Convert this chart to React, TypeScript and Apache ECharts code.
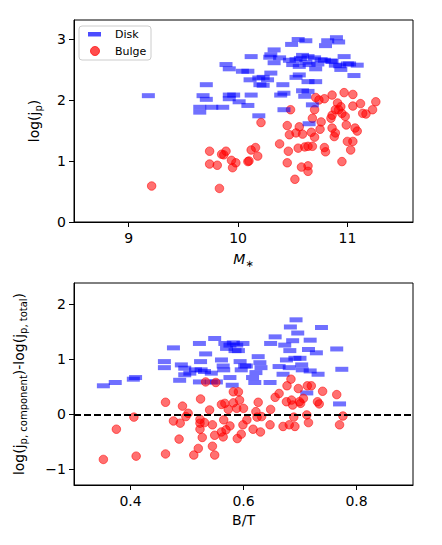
import React, { useEffect, useRef } from "react";
import * as echarts from "echarts";

const FONT = "DejaVu Sans";

const massTicks = [9, 10, 11];
const logjTicks = [0, 1, 2, 3];
const btTicks = [0.4, 0.6, 0.8];
const dlogjTicks = [-1, 0, 1, 2];

// Top panel: [log M*, log j_p]
const diskTop: number[][] = [
  [9.18, 2.07], [9.71, 2.25], [9.68, 2.07], [9.71, 2.01], [9.65, 1.88], [9.65, 1.8], [9.76, 1.88],
  [9.86, 1.88], [9.92, 2.08], [9.92, 2.02], [9.96, 2.08], [10.01, 1.97], [10.09, 1.91], [10.12, 2.08],
  [10.19, 1.74], [9.89, 2.58], [9.92, 2.51], [10.04, 2.47], [10.12, 2.71], [10.09, 2.47], [10.11, 2.33],
  [10.19, 2.36], [10.2, 2.25], [10.23, 2.24], [10.27, 2.33], [10.23, 2.37], [10.3, 2.44], [10.3, 2.74],
  [10.29, 2.7], [10.33, 2.82], [10.33, 2.61], [10.38, 2.69], [10.49, 2.91], [10.55, 2.99], [10.62, 2.97],
  [10.8, 2.89], [10.82, 2.97], [10.9, 3.02], [10.92, 2.95], [10.53, 2.66], [10.59, 2.73], [10.64, 2.71],
  [10.7, 2.69], [10.76, 2.66], [10.5, 2.58], [10.56, 2.55], [10.65, 2.58], [10.71, 2.51], [10.85, 2.64],
  [10.97, 2.71], [10.89, 2.57], [10.94, 2.5], [11.02, 2.59], [11.09, 2.57], [11.06, 2.4], [10.53, 2.37],
  [10.56, 2.41], [10.71, 2.3], [10.64, 2.3], [10.41, 2.25], [10.42, 2.11], [10.39, 2.08], [10.59, 2.15],
  [10.64, 2.14], [10.61, 2.06], [10.42, 1.84], [10.68, 1.92], [10.65, 1.61], [10.47, 2.65], [10.57, 2.68],
  [10.62, 2.62], [10.73, 2.59], [10.79, 2.65], [10.86, 2.63], [10.93, 2.56], [11.0, 2.59],
];

const bulgeTop: number[][] = [
  [9.21, 0.59], [9.83, 0.55], [9.74, 1.16], [9.74, 0.95], [9.81, 0.93], [9.85, 1.11], [9.89, 1.16],
  [9.87, 1.1], [9.94, 1.01], [9.95, 0.89], [9.98, 0.97], [10.09, 0.99], [10.1, 1.0], [10.12, 1.18],
  [10.16, 1.22], [10.18, 1.08], [10.21, 1.63], [10.38, 1.28], [10.45, 0.97], [10.46, 1.16], [10.45, 1.58],
  [10.47, 1.43], [10.48, 1.84], [10.52, 0.7], [10.53, 1.46], [10.56, 1.56], [10.59, 1.44], [10.55, 1.21],
  [10.58, 0.9], [10.61, 1.23], [10.64, 1.24], [10.64, 0.92], [10.64, 0.83], [10.68, 1.24], [10.7, 1.39],
  [10.67, 1.47], [10.68, 1.7], [10.7, 1.84], [10.71, 2.04], [10.74, 2.0], [10.75, 1.52], [10.76, 1.64],
  [10.79, 2.02], [10.79, 1.22], [10.8, 1.15], [10.86, 2.08], [10.86, 1.54], [10.86, 1.75], [10.88, 1.4],
  [10.89, 1.46], [10.91, 1.95], [10.92, 1.84], [10.94, 1.89], [10.95, 1.78], [10.95, 0.99], [10.97, 2.12],
  [10.98, 1.73], [10.99, 1.59], [11.0, 1.32], [11.03, 1.18], [11.05, 1.32], [11.05, 2.09], [11.05, 1.9],
  [11.07, 1.54], [11.09, 1.49], [11.12, 1.94], [11.14, 1.78], [11.17, 1.77], [11.23, 1.84], [11.26, 1.97],
  [10.85, 1.7], [10.89, 1.84],
];

// Bottom panel: [B/T, log j_comp - log j_total]
const diskBottom: number[][] = [
  [0.352, 0.52], [0.373, 0.58], [0.405, 0.64], [0.409, 0.67], [0.476, 1.21], [0.46, 0.96], [0.46, 0.85],
  [0.49, 0.9], [0.496, 0.84], [0.487, 0.62], [0.496, 0.72], [0.505, 0.75], [0.522, 1.29], [0.533, 1.1],
  [0.524, 0.96], [0.515, 0.81], [0.525, 0.81], [0.531, 0.78], [0.522, 0.59], [0.549, 1.38], [0.543, 0.75],
  [0.543, 0.59], [0.552, 0.59], [0.561, 0.99], [0.564, 0.88], [0.567, 1.29], [0.57, 1.2], [0.576, 1.26],
  [0.582, 1.3], [0.585, 1.16], [0.588, 1.26], [0.591, 1.16], [0.594, 0.96], [0.599, 1.29], [0.602, 0.88],
  [0.576, 0.67], [0.565, 0.81], [0.58, 0.53], [0.596, 0.81], [0.605, 0.88], [0.616, 0.67], [0.62, 0.58],
  [0.622, 0.76], [0.626, 1.05], [0.629, 0.94], [0.631, 0.85], [0.647, 0.58], [0.648, 1.29], [0.656, 1.41],
  [0.663, 0.87], [0.67, 0.73], [0.673, 1.26], [0.676, 0.99], [0.682, 1.16], [0.681, 0.85], [0.683, 1.59],
  [0.687, 1.34], [0.691, 1.02], [0.693, 1.72], [0.696, 1.48], [0.7, 1.02], [0.703, 0.9], [0.704, 0.81],
  [0.712, 0.39], [0.715, 1.18], [0.718, 1.35], [0.718, 0.79], [0.729, 1.12], [0.732, 0.73], [0.738, 1.58],
  [0.765, 1.19], [0.774, 0.82], [0.77, 0.19],
];

const bulgeBottom: number[][] = [
  [0.352, -0.82], [0.375, -0.27], [0.406, -0.05], [0.41, -0.76], [0.462, 0.22], [0.462, -0.72],
  [0.476, -0.12], [0.486, -0.45], [0.492, 0.15], [0.488, -0.16], [0.498, -0.04], [0.502, 0.02],
  [0.512, -0.74], [0.52, -0.62], [0.524, 0.28], [0.523, -0.09], [0.523, -0.16], [0.523, -0.27],
  [0.527, -0.42], [0.531, -0.15], [0.533, 0.59], [0.54, 0.08], [0.545, -0.19], [0.545, -0.58],
  [0.549, -0.38], [0.549, -0.74], [0.551, 0.58], [0.561, -0.32], [0.561, 0.18], [0.567, 0.2],
  [0.565, -0.1], [0.564, -0.41], [0.569, -0.28], [0.573, 0.09], [0.576, -0.21], [0.582, 0.41],
  [0.582, 0.21], [0.588, 0.11], [0.589, -0.44], [0.591, 0.41], [0.593, 0.26], [0.596, -0.36],
  [0.599, -0.19], [0.6, 0.11], [0.606, -0.1], [0.617, -0.27], [0.622, 0.05], [0.624, -0.05],
  [0.626, 0.22], [0.63, -0.32], [0.632, -0.04], [0.647, -0.19], [0.648, 0.09], [0.656, 0.31],
  [0.663, 0.38], [0.67, -0.22], [0.677, 0.52], [0.676, 0.23], [0.681, -0.19], [0.684, 0.64],
  [0.685, 0.26], [0.687, 0.17], [0.689, -0.05], [0.691, -0.22], [0.697, 0.47], [0.699, 0.23],
  [0.701, 0.2], [0.706, 0.29], [0.713, 0.52], [0.712, -0.01], [0.715, -0.15], [0.72, 0.52],
  [0.731, 0.23], [0.734, 0.19], [0.74, 0.42], [0.765, 0.36], [0.77, -0.19], [0.776, -0.03],
];

const DISK_COLOR = "rgba(0,0,255,0.7)";
const BULGE_COLOR = "rgba(255,0,0,0.7)";

const rich = {
  n: { fontSize: 14, fontFamily: FONT, color: "#000" },
  i: { fontSize: 14, fontFamily: FONT, fontStyle: "italic", color: "#000" },
  s: { fontSize: 10, fontFamily: FONT, color: "#000", padding: [8, 0, 0, 0], verticalAlign: "bottom" },
};

const fmt = (v: number) => String(v).replace("-", "\u2212");

function makeX(gridIndex: number, min: number, max: number, ticks: number[], name: string, nameGap: number) {
  return {
    type: "value",
    gridIndex,
    min,
    max,
    name,
    nameLocation: "middle",
    nameGap,
    nameTextStyle: { rich },
    axisLine: { show: true, onZero: false, lineStyle: { color: "#000", width: 1 } },
    axisTick: { show: true, customValues: ticks, length: 5, lineStyle: { color: "#000" } },
    axisLabel: { customValues: ticks, formatter: fmt, fontSize: 14, fontFamily: FONT, color: "#000", margin: 9 },
    splitLine: { show: false },
  };
}

function makeY(gridIndex: number, min: number, max: number, ticks: number[], name: string, nameGap: number) {
  return {
    type: "value",
    gridIndex,
    min,
    max,
    name,
    nameLocation: "middle",
    nameGap,
    nameTextStyle: { rich },
    axisLine: { show: true, onZero: false, lineStyle: { color: "#000", width: 1 } },
    axisTick: { show: true, customValues: ticks, length: 5, lineStyle: { color: "#000" } },
    axisLabel: { customValues: ticks, formatter: fmt, fontSize: 14, fontFamily: FONT, color: "#000", margin: 8 },
    splitLine: { show: false },
  };
}

export default function App() {
  const ref = useRef<HTMLDivElement>(null);
  useEffect(() => {
    const chart = echarts.init(ref.current!, null, { renderer: "svg" });
    const option: any = {
      animation: false,
      backgroundColor: "#fff",
      grid: [
        { left: 74, top: 20, width: 339, height: 202, show: true, borderColor: "#000", borderWidth: 1, backgroundColor: "transparent" },
        { left: 74, top: 283, width: 339, height: 202, show: true, borderColor: "#000", borderWidth: 1, backgroundColor: "transparent" },
      ],
      xAxis: [
        makeX(0, 8.5, 11.6, massTicks, "{i|M}{s|\u2217}", 28),
        makeX(1, 0.3, 0.9, btTicks, "{n|B/T}", 28),
      ],
      yAxis: [
        makeY(0, 0, 3.31, logjTicks, "{n|log(j}{s|p}{n|)}", 31),
        makeY(1, -1.285, 2.39, dlogjTicks, "{n|log(j}{s|p, component}{n|)-log(j}{s|p, total}{n|)}", 46),
      ],
      series: [
        {
          name: "Bulge",
          type: "scatter",
          xAxisIndex: 0,
          yAxisIndex: 0,
          data: bulgeTop,
          symbol: "circle",
          symbolSize: 8.5,
          itemStyle: { color: BULGE_COLOR, borderColor: BULGE_COLOR, borderWidth: 1 },
          z: 2,
        },
        {
          name: "Disk",
          type: "scatter",
          xAxisIndex: 0,
          yAxisIndex: 0,
          data: diskTop,
          symbol: "rect",
          symbolSize: [13, 5],
          itemStyle: { color: DISK_COLOR },
          z: 3,
        },
        {
          name: "Disk",
          type: "scatter",
          xAxisIndex: 1,
          yAxisIndex: 1,
          data: diskBottom,
          symbol: "rect",
          symbolSize: [13, 5],
          itemStyle: { color: DISK_COLOR },
          z: 2,
        },
        {
          name: "Bulge",
          type: "scatter",
          xAxisIndex: 1,
          yAxisIndex: 1,
          data: bulgeBottom,
          symbol: "circle",
          symbolSize: 8.5,
          itemStyle: { color: BULGE_COLOR, borderColor: BULGE_COLOR, borderWidth: 1 },
          z: 3,
          markLine: {
            silent: true,
            symbol: "none",
            label: { show: false },
            lineStyle: { color: "#000", type: [7, 3], width: 2 },
            data: [{ yAxis: 0 }],
            z: 5,
          },
        },
      ],
      graphic: [
        {
          type: "group",
          z: 100,
          children: [
            { type: "rect", shape: { x: 79, y: 26, width: 72, height: 34, r: 3 }, style: { fill: "rgba(255,255,255,0.8)", stroke: "#cccccc", lineWidth: 1 } },
            { type: "rect", shape: { x: 88, y: 32, width: 13, height: 4.5 }, style: { fill: DISK_COLOR } },
            { type: "circle", shape: { cx: 95, cy: 51, r: 4.5 }, style: { fill: BULGE_COLOR, stroke: BULGE_COLOR, lineWidth: 1 } },
            { type: "text", style: { text: "Disk", x: 115, y: 34.5, fontSize: 11, fontFamily: FONT, fill: "#000", verticalAlign: "middle" } },
            { type: "text", style: { text: "Bulge", x: 115, y: 51, fontSize: 11, fontFamily: FONT, fill: "#000", verticalAlign: "middle" } },
          ],
        },
      ],
    };
    chart.setOption(option);
    return () => chart.dispose();
  }, []);
  return (
    <div
      ref={ref}
      style={{ position: "fixed", left: 0, top: 0, width: 442, height: 545, background: "#fff" }}
    />
  );
}
